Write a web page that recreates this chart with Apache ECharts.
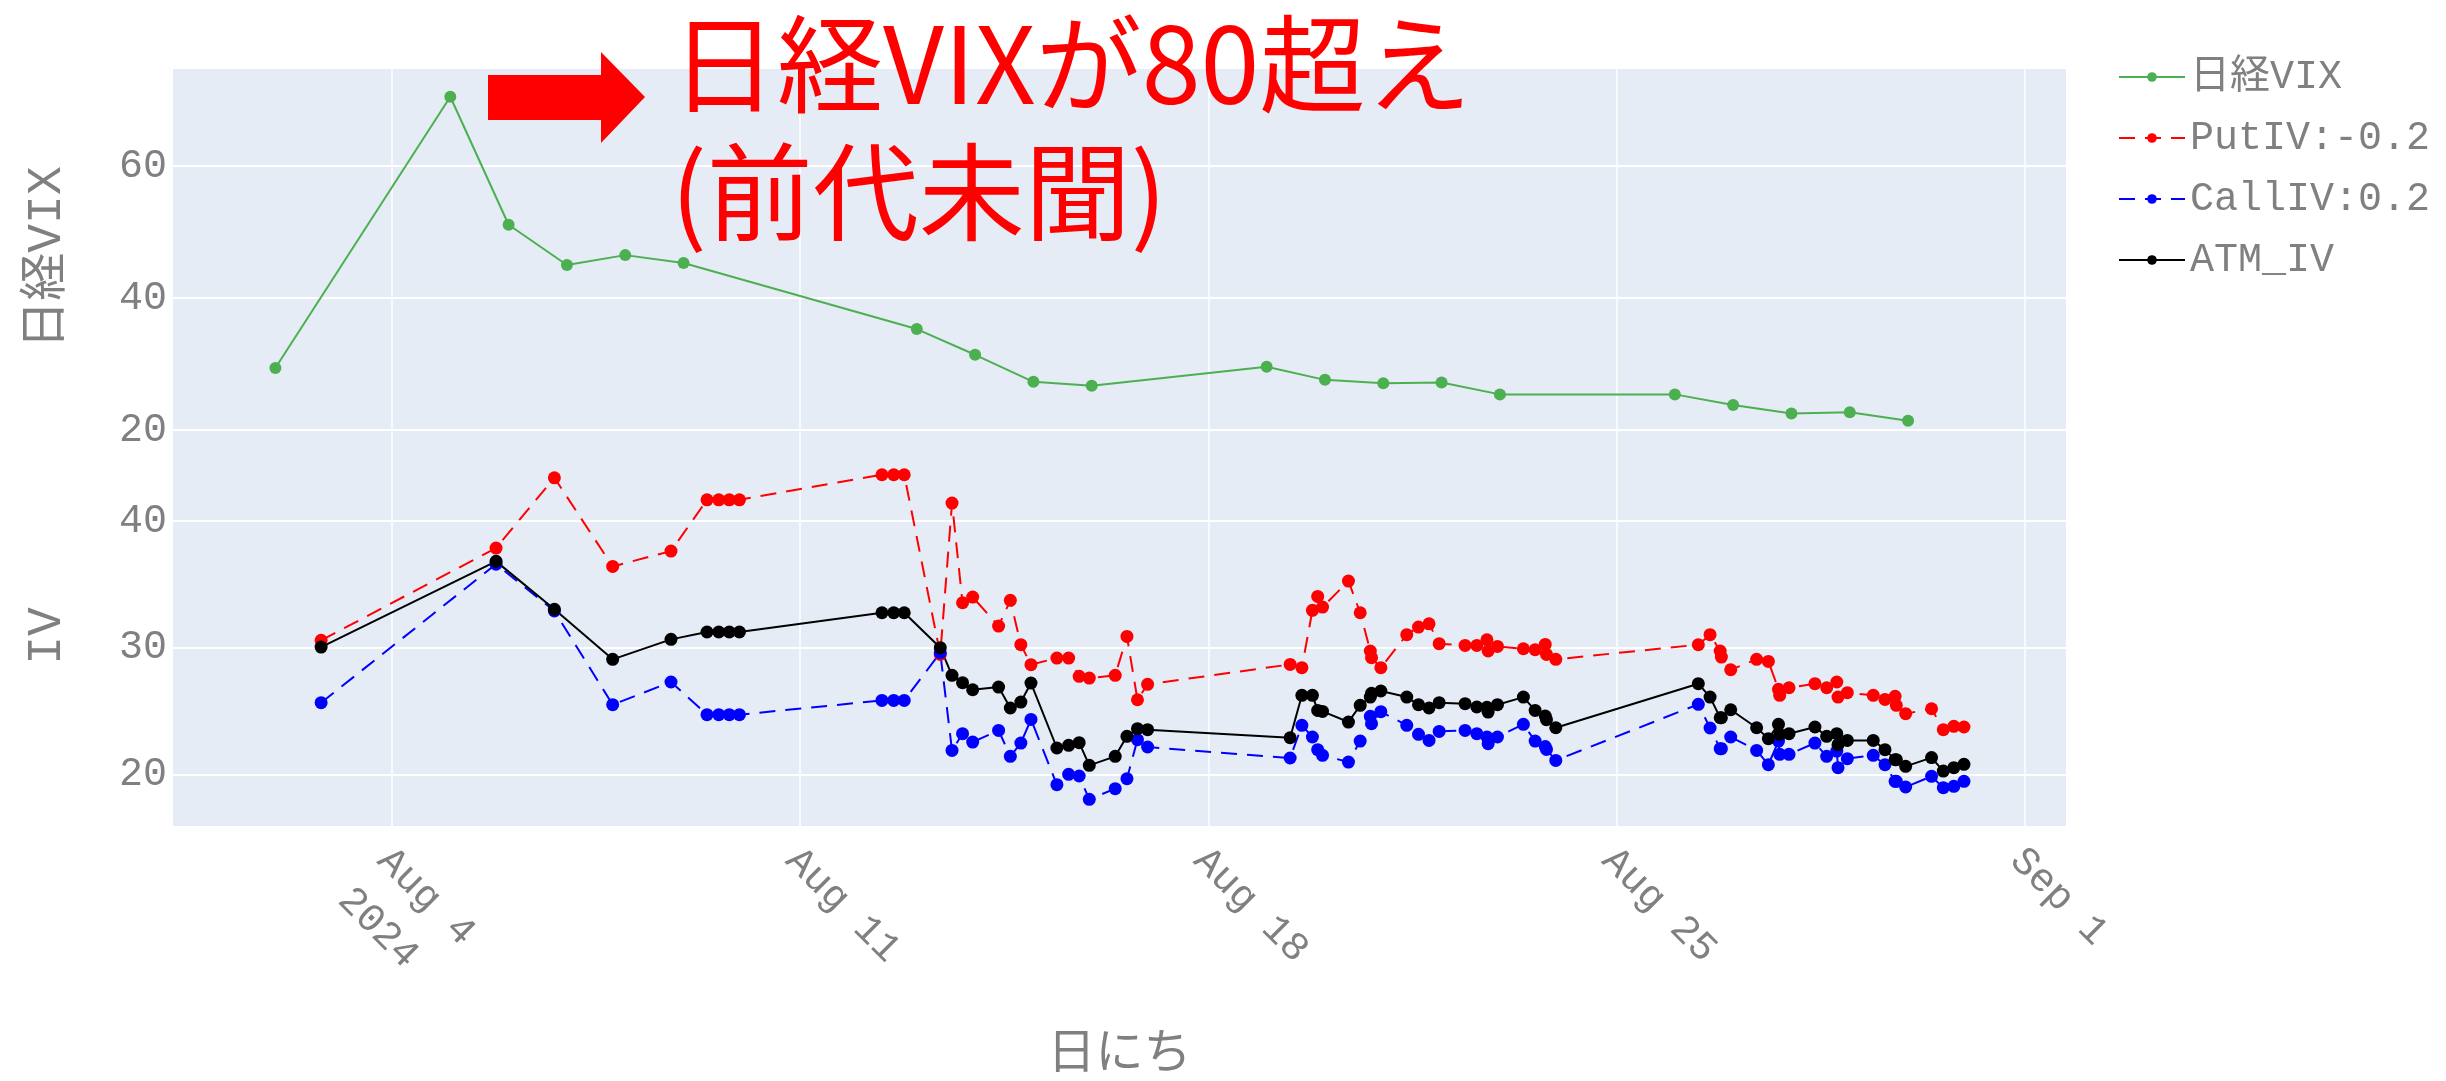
<!DOCTYPE html>
<html>
<head>
<meta charset="utf-8">
<script src="https://cdn.jsdelivr.net/npm/echarts@6/dist/echarts.min.js"></script>
<style>
html,body{margin:0;padding:0;background:#fff;}
#main{width:2446px;height:1081px;}
</style>
</head>
<body>
<div id="main"></div>
<script>
// 日経VIX (daily)
var vixDates = ['08-02','08-05','08-06','08-07','08-08','08-09','08-13','08-14','08-15','08-16',
    '08-19','08-20','08-21','08-22','08-23','08-26','08-27','08-28','08-29','08-30'];
var vixValues = [29.4,70.5,51.1,45.0,46.5,45.3,35.3,31.4,27.3,26.7,
    29.6,27.6,27.1,27.2,25.4,25.4,23.8,22.5,22.7,21.4];

// IV samples (shared timestamps)
var ivTimes = [
    '08-02 18:50','08-05 18:50','08-06 18:50','08-07 18:50','08-08 18:50',
    '08-09 09:40','08-09 14:30','08-09 18:50','08-09 23:00',
    '08-12 09:40','08-12 14:30','08-12 18:50',
    '08-13 09:40','08-13 14:30','08-13 18:50','08-13 23:00',
    '08-14 09:40','08-14 14:30','08-14 18:50','08-14 23:00',
    '08-15 09:40','08-15 14:30','08-15 18:50','08-15 23:00',
    '08-16 09:40','08-16 14:30','08-16 18:50','08-16 23:00',
    '08-19 09:40','08-19 14:30','08-19 18:50','08-19 21:00','08-19 23:00',
    '08-20 09:40','08-20 14:30','08-20 18:40','08-20 19:10','08-20 23:00',
    '08-21 09:40','08-21 14:30','08-21 18:50','08-21 23:00',
    '08-22 09:40','08-22 14:30','08-22 18:40','08-22 19:10','08-22 23:00',
    '08-23 09:40','08-23 14:30','08-23 18:40','08-23 19:10','08-23 23:00',
    '08-26 09:40','08-26 14:30','08-26 18:40','08-26 19:10','08-26 23:00',
    '08-27 09:40','08-27 14:30','08-27 18:40','08-27 19:10','08-27 23:00',
    '08-28 09:40','08-28 14:30','08-28 18:40','08-28 19:10','08-28 23:00',
    '08-29 09:40','08-29 14:30','08-29 18:40','08-29 19:10','08-29 23:00',
    '08-30 09:40','08-30 14:30','08-30 18:50','08-30 23:00'
];
var putIV = [
    30.58,37.87,43.42,36.42,37.63,
    41.68,41.68,41.68,41.68,
    43.66,43.66,43.66,
    29.47,41.42,33.55,34.0,
    31.71,33.74,30.24,28.66,
    29.18,29.18,27.74,27.6,
    27.82,30.89,25.89,27.11,
    28.68,28.42,32.95,34.05,33.21,
    35.26,32.76,29.74,29.21,28.42,
    31.03,31.63,31.89,30.32,
    30.18,30.18,30.63,29.74,30.1,
    29.92,29.84,30.26,29.47,29.08,
    30.24,31.03,29.74,29.26,28.26,
    29.08,28.92,26.71,26.24,26.84,
    27.16,26.84,27.29,26.1,26.45,
    26.24,25.92,26.16,25.45,24.79,
    25.18,23.53,23.79,23.74
];
var callIV = [
    25.66,36.6,32.9,25.5,27.29,
    24.71,24.71,24.71,24.71,
    25.84,25.84,25.84,
    29.6,21.89,23.21,22.55,
    23.47,21.42,22.47,24.34,
    19.18,20.0,19.87,18.03,
    18.87,19.66,22.74,22.16,
    21.29,23.87,22.95,21.95,21.5,
    20.97,22.63,24.58,24.0,24.95,
    23.87,23.16,22.68,23.39,
    23.47,23.21,22.95,22.42,22.95,
    23.95,22.63,22.2,21.97,21.1,
    25.53,23.66,22.03,22.03,22.95,
    21.89,20.76,22.63,21.58,21.58,
    22.47,21.42,21.84,20.53,21.24,
    21.5,20.76,19.45,19.45,19.0,
    19.84,18.95,19.05,19.45
];
var atmIV = [
    30.05,36.82,33.03,29.08,30.66,
    31.24,31.24,31.24,31.24,
    32.76,32.76,32.76,
    30.0,27.82,27.24,26.68,
    26.89,25.24,25.71,27.21,
    22.08,22.29,22.5,20.71,
    21.42,23.0,23.61,23.53,
    22.89,26.24,26.24,25.05,24.97,
    24.13,25.45,26.1,26.4,26.58,
    26.1,25.5,25.24,25.66,
    25.58,25.32,25.3,24.92,25.5,
    26.1,25.05,24.6,24.32,23.68,
    27.16,26.1,24.47,24.47,25.1,
    23.68,22.82,23.95,23.16,23.21,
    23.74,23.0,23.21,22.34,22.68,
    22.68,21.95,21.16,21.16,20.63,
    21.32,20.26,20.53,20.79
];

// x axis ticks
var tickDates = ['08-04 00:00','08-11 00:00','08-18 00:00','08-25 00:00','09-01 00:00'];
var tickLabels = ['Aug 4\n2024','Aug 11','Aug 18','Aug 25','Sep 1'];
var vixTicks = [20, 40, 60];
var ivTicks = [20, 30, 40];

var monoFont = '"Liberation Mono", "Noto Sans CJK JP", monospace';
var grey = '#808080';

// 'MM-DD HH:mm' -> ms (local time)
function toTime(s) {
    var p = s.split(/[- :]/);
    return new Date(2024, +p[0] - 1, +p[1], +(p[2] || 0), +(p[3] || 0)).getTime();
}
var tickValues = tickDates.map(toTime);

// first line tight, second line pushed down (plotly-like spacing)
function tickFormatter(value) {
    for (var i = 0; i < tickValues.length; i++) {
        if (Math.abs(tickValues[i] - value) < 1000) {
            var lines = tickLabels[i].split('\n');
            var out = '{a|' + lines[0] + '}';
            if (lines.length > 1) out += '\n{b|' + lines[1] + '}';
            return out;
        }
    }
    return '';
}

function pairs(times, values) {
    return times.map(function (t, i) {
        return [toTime(t), values[i]];
    });
}

var xMin = toTime('07-31 05:52');
var xMax = toTime('09-01 17:00');

function makeX(gridIndex, showLabel) {
    return {
        type: 'value',
        gridIndex: gridIndex,
        min: xMin,
        max: xMax,
        axisLine: {show: false},
        axisTick: {show: false, customValues: tickValues},
        axisLabel: {
            show: showLabel,
            customValues: tickValues,
            formatter: tickFormatter,
            rotate: -45,
            margin: 20,
            align: 'left',
            verticalAlign: 'top',
            fontFamily: monoFont,
            fontSize: 40,
            color: grey,
            lineHeight: 24,
            rich: {
                a: {fontFamily: monoFont, fontSize: 40, color: grey, lineHeight: 24},
                b: {fontFamily: monoFont, fontSize: 40, color: grey, lineHeight: 88}
            }
        },
        splitLine: {show: true, lineStyle: {color: '#ffffff', width: 1.5}},
        name: showLabel ? '日にち' : '',
        nameLocation: 'middle',
        nameGap: 200,
        nameTextStyle: {fontFamily: '"Noto Sans CJK JP", sans-serif', fontSize: 48, color: grey}
    };
}

function makeY(gridIndex, min, max, ticks, name) {
    return {
        type: 'value',
        gridIndex: gridIndex,
        min: min,
        max: max,
        axisLine: {show: false},
        axisTick: {show: false, customValues: ticks},
        axisLabel: {customValues: ticks, fontFamily: monoFont, fontSize: 40, color: grey, margin: 6},
        splitLine: {show: true, lineStyle: {color: '#ffffff', width: 2}},
        name: name,
        nameLocation: 'middle',
        nameGap: 102,
        nameTextStyle: {fontFamily: monoFont, fontSize: 48, color: grey}
    };
}

var myChart = echarts.init(document.getElementById('main'));
var option = {
    animation: false,
    backgroundColor: '#ffffff',
    grid: [
        {left: 173, top: 69, width: 1893, height: 377, show: true, backgroundColor: '#E5ECF6', borderWidth: 0},
        {left: 173, top: 446, width: 1893, height: 380, show: true, backgroundColor: '#E5ECF6', borderWidth: 0}
    ],
    xAxis: [makeX(0, false), makeX(1, true)],
    yAxis: [
        makeY(0, 17.58, 74.7, vixTicks, '日経VIX'),
        makeY(1, 15.92, 45.93, ivTicks, 'IV')
    ],
    legend: {
        orient: 'vertical',
        left: 2113,
        top: 52,
        itemWidth: 66,
        itemHeight: 12,
        itemGap: 21,
        textStyle: {fontFamily: monoFont, fontSize: 40, color: grey},
        data: ['日経VIX', 'PutIV:-0.2', 'CallIV:0.2', 'ATM_IV']
    },
    series: [
        {
            name: '日経VIX',
            type: 'line',
            xAxisIndex: 0,
            yAxisIndex: 0,
            symbol: 'circle',
            symbolSize: 12,
            showAllSymbol: true,
            itemStyle: {color: '#4CAF50'},
            lineStyle: {color: '#4CAF50', width: 2},
            data: vixDates.map(function (d, i) { return [toTime(d), vixValues[i]]; })
        },
        {
            name: 'PutIV:-0.2',
            type: 'line',
            xAxisIndex: 1,
            yAxisIndex: 1,
            symbol: 'circle',
            symbolSize: 13,
            showAllSymbol: true,
            itemStyle: {color: '#ff0000'},
            lineStyle: {color: '#ff0000', width: 2, type: [16, 10]},
            data: pairs(ivTimes, putIV)
        },
        {
            name: 'CallIV:0.2',
            type: 'line',
            xAxisIndex: 1,
            yAxisIndex: 1,
            symbol: 'circle',
            symbolSize: 13,
            showAllSymbol: true,
            itemStyle: {color: '#0000ff'},
            lineStyle: {color: '#0000ff', width: 2, type: [16, 10]},
            data: pairs(ivTimes, callIV)
        },
        {
            name: 'ATM_IV',
            type: 'line',
            xAxisIndex: 1,
            yAxisIndex: 1,
            symbol: 'circle',
            symbolSize: 13,
            showAllSymbol: true,
            itemStyle: {color: '#000000'},
            lineStyle: {color: '#000000', width: 2},
            data: pairs(ivTimes, atmIV)
        }
    ],
    // 注記 (矢印 + テキスト)
    graphic: [
        {
            type: 'polygon',
            shape: {points: [[488, 75], [601, 75], [601, 52], [645, 97], [601, 143], [601, 120], [488, 120]]},
            style: {fill: '#ff0000'},
            z: 100
        },
        {
            type: 'text',
            style: {
                x: 671, y: 64,
                text: '日経VIXが80超え',
                fill: '#ff0000',
                font: 'normal 106px "Noto Sans CJK JP"',
                verticalAlign: 'middle', textVerticalAlign: 'middle'
            },
            z: 100
        },
        {
            type: 'text',
            style: {
                x: 671, y: 192,
                text: '(前代未聞)',
                fill: '#ff0000',
                font: 'normal 106px "Noto Sans CJK JP"',
                verticalAlign: 'middle', textVerticalAlign: 'middle'
            },
            z: 100
        }
    ]
};
if (option && typeof option === "object") {
    myChart.setOption(option, true);
}
</script>
</body>
</html>
